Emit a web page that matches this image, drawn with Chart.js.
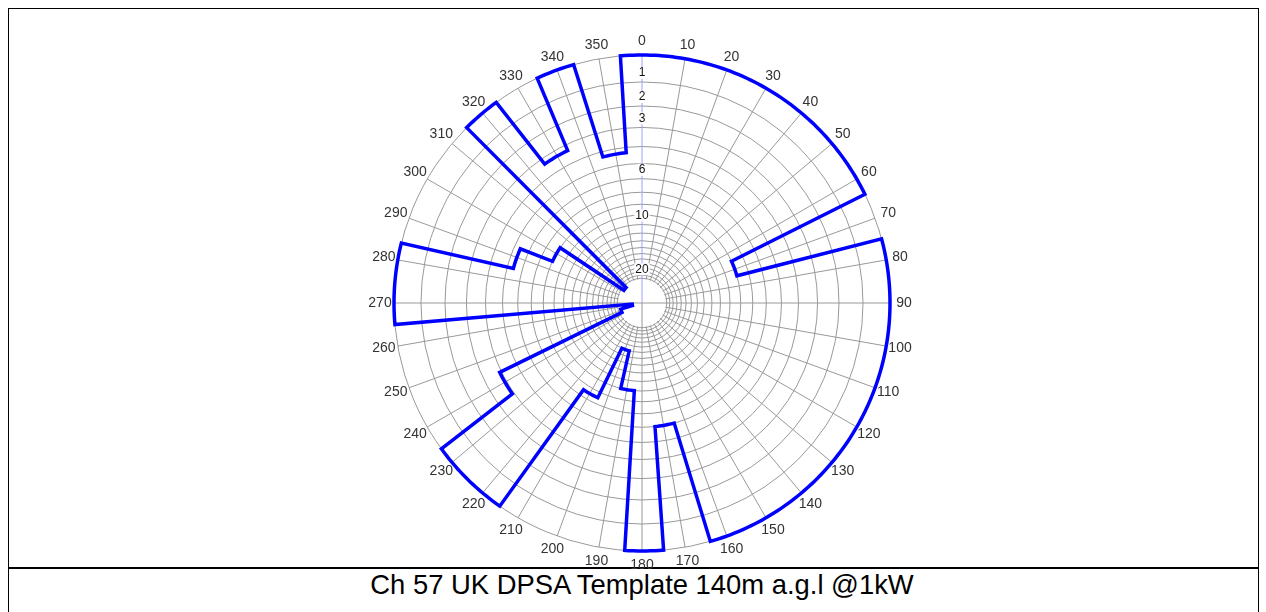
<!DOCTYPE html>
<html lang="en">
<head>
<meta charset="utf-8">
<title>Ch 57 UK DPSA Template</title>
<script src="https://cdn.jsdelivr.net/npm/chart.js@4/dist/chart.umd.min.js"></script>
<style>
  html, body { margin: 0; padding: 0; background: #fff; overflow: hidden; }
  #frame { position: absolute; left: 8px; top: 8px; width: 1249px; height: 640px; border: 1px solid #000; }
  #sep { position: absolute; left: 8px; top: 567px; width: 1251px; height: 2px; background: #000; }
  #title { position: absolute; left: 17px; top: 570px; width: 1250px; height: 30px; line-height: 30px;
           text-align: center; font-family: "Liberation Sans", Arial, sans-serif; font-size: 27.4px; color: #000; }
  #myChart { position: absolute; left: 0; top: 0; }
</style>

<script>

// template directions (deg) and attenuation (dB, 0 = max)
var directions = [0, 10, 20, 30, 40, 50, 60, 70, 80, 90, 100, 110,
                  120, 130, 140, 150, 160, 170, 180, 190, 200, 210, 220, 230,
                  240, 250, 260, 270, 280, 290, 300, 310, 320, 330, 340, 350];
var attenuationDb = [0, 0, 0, 0, 0, 0, 0, 8, 0, 0, 0, 0,
                     0, 0, 0, 0, 0, 6, 0, 9, 14, 7.5, 0, 0,
                     3.9, 21, 28, 0, 0, 5.4, 8, 21, 0, 3.3, 0, 4.3];

// radial grid rings (dB) and the ones that carry a label
var ringDb = [0, 1, 2, 3, 4, 5, 6, 7, 8, 9, 10, 11, 12, 13, 14, 15, 16, 17, 18, 19, 20];
var ringLabelDb = [1, 2, 3, 6, 10, 20];

var chartTitle = 'Ch 57 UK DPSA Template 140m a.g.l @1kW';

var gridGrey = '#999999';
var axisBlue = '#a0a0ff';

function toField(db) {
    return Math.pow(10, -db / 20);
}

// one point per degree, each degree takes the value of its 10 deg sector
var degrees = [];
var fieldValues = [];
for (var d = 0; d < 360; d++) {
    degrees.push(d);
    var k = directions.indexOf((Math.round(d / 10) * 10) % 360);
    fieldValues.push(toField(attenuationDb[k]));
}

// white centre (inside the 20 dB ring) with the main axes running through it
var holePlugin = {
    id: 'hole',
    beforeDatasetsDraw: function(chart) {
        var s = chart.scales.r;
        var ctx = chart.ctx;
        var rHole = s.getDistanceFromCenterForValue(toField(20));
        ctx.save();
        ctx.fillStyle = '#fff';
        ctx.beginPath();
        ctx.arc(s.xCenter, s.yCenter, rHole - 1, 0, 2 * Math.PI);
        ctx.fill();
        ctx.lineWidth = 1;
        [0, 90, 180, 270].forEach(function(deg) {
            var p = s.getPointPosition(deg, rHole);
            ctx.strokeStyle = deg === 0 ? axisBlue : gridGrey;
            ctx.beginPath();
            ctx.moveTo(s.xCenter, s.yCenter);
            ctx.lineTo(p.x, p.y);
            ctx.stroke();
        });
        ctx.restore();
    }
};

// direction labels, centred just outside the outer ring
var directionLabelPlugin = {
    id: 'dirLabels',
    afterDraw: function(chart) {
        var s = chart.scales.r;
        var ctx = chart.ctx;
        ctx.save();
        ctx.font = '14px "Liberation Sans", Arial, sans-serif';
        ctx.fillStyle = '#333';
        ctx.textAlign = 'center';
        ctx.textBaseline = 'middle';
        directions.forEach(function(deg) {
            var p = s.getPointPosition(deg, s.drawingArea + 14);
            ctx.fillText(String(deg), p.x, p.y);
        });
        ctx.restore();
    }
};

function draw() {

    var ctx = document.getElementById('myChart');
    var myChart = new Chart(ctx, {
        type: 'radar',
        data: {
            labels: degrees,
            datasets: [{
                label: 'Template',
                data: fieldValues,
                borderColor: '#0000ff',
                borderWidth: 3.5,
                borderJoinStyle: 'miter',
                fill: false,
                pointRadius: 0,
                pointHoverRadius: 0,
                tension: 0
            }]
        },
        options: {
            responsive: false,
            animation: false,
            // tick backdrop adds 6px each side inside the scale
            layout: { padding: { left: 18, right: 0, top: 49, bottom: 55 } },
            plugins: {
                legend: { display: false },
                tooltip: { enabled: false }
            },
            scales: {
                r: {
                    min: 0,
                    max: 1,
                    startAngle: 0,
                    afterBuildTicks: function(scale) {
                        var t = [{ value: 0 }];
                        ringDb.forEach(function(db) { t.push({ value: toField(db) }); });
                        ringLabelDb.forEach(function(db) {
                            // label sits just outside its ring
                            t.push({ value: toField(db) + 9 / 248, text: String(db) });
                        });
                        scale.ticks = t;
                    },
                    ticks: {
                        autoSkip: false,
                        color: '#111',
                        font: { family: 'Liberation Sans, Arial, sans-serif', size: 12 },
                        showLabelBackdrop: function(c) { return !!(c.tick && c.tick.text); },
                        backdropColor: '#fff',
                        backdropPadding: { x: 1, y: 0 },
                        callback: function(v, i, ticks) { return ticks[i].text || ''; }
                    },
                    grid: {
                        circular: true,
                        color: gridGrey,
                        lineWidth: function(c) { return c.tick && c.tick.text ? 0 : 1; }
                    },
                    angleLines: {
                        color: function(c) { return c.index === 0 ? axisBlue : gridGrey; },
                        lineWidth: function(c) { return c.index % 10 === 0 ? 1 : 0; }
                    },
                    pointLabels: { display: false }
                }
            }
        },
        plugins: [holePlugin, directionLabelPlugin]
    });
}

function go() {
    document.getElementById('title').textContent = chartTitle;
    draw();
}

</script>
</head>

<body onload="go();">
<div id="frame"></div>
<div id="sep"></div>
<div id="title"></div>
<canvas id="myChart" width="1266" height="612"></canvas>
</body>
</html>
